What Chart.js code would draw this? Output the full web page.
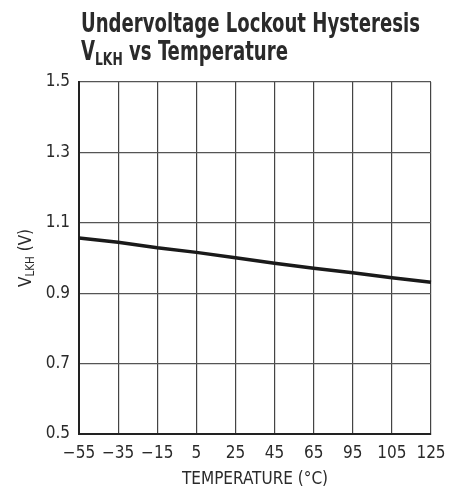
<!DOCTYPE html>
<html>
<head>
<meta charset="utf-8">
<script src="https://cdn.jsdelivr.net/npm/chart.js@4.4.1/dist/chart.umd.min.js"></script>
<style>
  html, body { margin: 0; padding: 0; background: #fff; }
  #wrap { width: 459px; height: 494px; }
</style>
</head>
<body>
<div id="wrap"><canvas id="vlkhChart" width="459" height="494"></canvas></div>
<script>
// Datos
const tempLabels = ['\u221255', '\u221235', '\u221215', '5', '25', '45', '65', '95', '105', '125'];
const vlkhValues = [1.057, 1.045, 1.029, 1.016, 1.001, 0.985, 0.971, 0.958, 0.944, 0.931];
const yTicks = [0.5, 0.7, 0.9, 1.1, 1.3, 1.5];

const FONT = "'DejaVu Sans Condensed', 'Liberation Sans', sans-serif";
const INK = '#2a2a2a';

// texto con subíndice: partes [{t, sub}]
function drawParts(ctx, parts, x, y, size, bold) {
    let cx = x;
    parts.forEach(p => {
        const s = p.sub ? size * 0.68 : size;
        ctx.font = (bold ? 'bold ' : '') + s + 'px ' + FONT;
        ctx.fillText(p.t, cx, p.sub ? y + size * 0.2 : y);
        cx += ctx.measureText(p.t).width;
    });
    return cx - x;
}
function partsWidth(ctx, parts, size, bold) {
    let w = 0;
    parts.forEach(p => {
        const s = p.sub ? size * 0.68 : size;
        ctx.font = (bold ? 'bold ' : '') + s + 'px ' + FONT;
        w += ctx.measureText(p.t).width;
    });
    return w;
}

const titlesPlugin = {
    id: 'titles',
    afterDraw(chart) {
        const ctx = chart.ctx;
        const area = chart.chartArea;
        ctx.save();
        ctx.fillStyle = INK;
        ctx.textAlign = 'left';
        ctx.textBaseline = 'alphabetic';

        // Título (comprimido a lo ancho, como la fuente condensada del original)
        const line1 = [{ t: 'Undervoltage Lockout Hysteresis' }];
        const sx = 339 / partsWidth(ctx, line1, 26, true);
        ctx.save();
        ctx.translate(81, 0);
        ctx.scale(sx, 1);
        drawParts(ctx, line1, 0, 32, 26, true);
        drawParts(ctx, [{ t: 'V' }, { t: 'LKH', sub: true }, { t: ' vs Temperature' }], 0, 60, 26, true);
        ctx.restore();

        // Título eje Y (rotado)
        const yParts = [{ t: 'V' }, { t: 'LKH', sub: true }, { t: ' (V)' }];
        const w = partsWidth(ctx, yParts, 17, false);
        ctx.translate(31, (area.top + area.bottom) / 2);
        ctx.rotate(-Math.PI / 2);
        drawParts(ctx, yParts, -w / 2, 0, 17, false);
        ctx.restore();

        // Título eje X
        ctx.save();
        ctx.fillStyle = INK;
        ctx.font = '17px ' + FONT;
        ctx.textAlign = 'center';
        ctx.fillText('TEMPERATURE (\u00B0C)', (area.left + area.right) / 2, 484);
        ctx.restore();
    }
};

const ctx = document.getElementById('vlkhChart').getContext('2d');
const chart = new Chart(ctx, {
    type: 'line',
    data: {
        labels: tempLabels,
        datasets: [{
            data: vlkhValues,
            borderColor: '#1a1a1a',
            borderWidth: 3.5,
            pointRadius: 0,
            tension: 0,
            fill: false
        }]
    },
    options: {
        responsive: false,
        animation: false,
        events: [],
        layout: { padding: { top: 82, right: 28, left: 0, bottom: 0 } },
        plugins: {
            legend: { display: false },
            tooltip: { enabled: false }
        },
        scales: {
            x: {
                type: 'category',
                offset: false,
                grid: { color: '#444', lineWidth: 1.2, drawTicks: false },
                border: { color: '#222', width: 2 },
                ticks: {
                    color: INK,
                    font: { family: FONT, size: 17 },
                    padding: 9,
                    maxRotation: 0,
                    autoSkip: false
                },
                afterFit: s => { s.height = 60; }
            },
            y: {
                min: 0.5,
                max: 1.5,
                afterBuildTicks: s => { s.ticks = yTicks.map(v => ({ value: v })); },
                grid: { color: '#555', lineWidth: 1.2, drawTicks: false },
                border: { color: '#222', width: 2 },
                ticks: {
                    color: INK,
                    font: { family: FONT, size: 17 },
                    padding: 9,
                    callback: v => v.toFixed(1)
                },
                afterFit: s => { s.width = 79; }
            }
        }
    },
    plugins: [titlesPlugin]
});
</script>
</body>
</html>
